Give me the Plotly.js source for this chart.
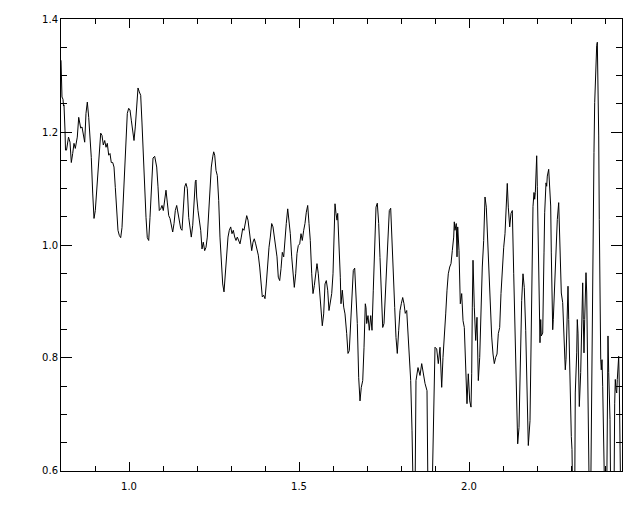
<!DOCTYPE html>
<html>
<head>
<meta charset="utf-8">
<script src="https://cdn.plot.ly/plotly-3.0.1.min.js"></script>
<style>html,body{margin:0;padding:0;background:#fff;}#chart{width:640px;height:512px;}</style>
</head>
<body>
<div id="chart"></div>
<script>
const wavelength = [
0.8000,0.8029,0.8059,0.8074,0.8088,0.8118,0.8132,0.8162,0.8191,0.8221,0.8265,0.8303,0.8344,0.8382,0.8421,0.8450,0.8479,0.8521,0.8550,0.8579,
0.8618,0.8656,0.8697,0.8735,0.8774,0.8815,0.8853,0.8891,0.8932,0.8971,0.9009,0.9050,0.9088,0.9126,0.9168,0.9206,0.9244,0.9285,0.9324,0.9362,
0.9403,0.9441,0.9479,0.9521,0.9559,0.9597,0.9638,0.9676,0.9715,0.9756,0.9794,0.9832,0.9874,0.9912,0.9950,0.9991,1.0029,1.0068,1.0109,1.0147,
1.0185,1.0226,1.0265,1.0303,1.0344,1.0382,1.0421,1.0462,1.0500,1.0538,1.0579,1.0618,1.0656,1.0706,1.0756,1.0815,1.0853,1.0891,1.0932,1.0971,
1.1009,1.1050,1.1088,1.1126,1.1168,1.1206,1.1244,1.1285,1.1324,1.1362,1.1403,1.1441,1.1479,1.1521,1.1559,1.1597,1.1638,1.1676,1.1715,1.1756,
1.1794,1.1832,1.1874,1.1912,1.1950,1.1971,1.1991,1.2029,1.2068,1.2109,1.2147,1.2185,1.2226,1.2265,1.2303,1.2344,1.2382,1.2421,1.2462,1.2491,
1.2521,1.2559,1.2597,1.2638,1.2676,1.2715,1.2756,1.2794,1.2832,1.2874,1.2912,1.2950,1.2991,1.3029,1.3068,1.3109,1.3147,1.3185,1.3226,1.3265,
1.3303,1.3344,1.3382,1.3421,1.3462,1.3500,1.3529,1.3568,1.3609,1.3647,1.3685,1.3726,1.3765,1.3803,1.3844,1.3882,1.3921,1.3962,1.4000,1.4038,
1.4079,1.4118,1.4156,1.4197,1.4235,1.4274,1.4315,1.4353,1.4391,1.4432,1.4471,1.4509,1.4550,1.4588,1.4626,1.4668,1.4706,1.4744,1.4785,1.4824,
1.4862,1.4903,1.4941,1.4979,1.5021,1.5059,1.5097,1.5138,1.5176,1.5215,1.5256,1.5294,1.5332,1.5374,1.5412,1.5450,1.5491,1.5529,1.5568,1.5609,
1.5647,1.5685,1.5726,1.5765,1.5803,1.5844,1.5882,1.5921,1.5962,1.6000,1.6038,1.6059,1.6088,1.6118,1.6138,1.6176,1.6215,1.6235,1.6274,1.6315,
1.6353,1.6403,1.6441,1.6479,1.6521,1.6559,1.6597,1.6638,1.6676,1.6715,1.6756,1.6794,1.6832,1.6874,1.6912,1.6950,1.6971,1.6991,1.7029,1.7068,
1.7109,1.7147,1.7185,1.7226,1.7265,1.7303,1.7344,1.7382,1.7421,1.7462,1.7500,1.7538,1.7579,1.7618,1.7656,1.7697,1.7735,1.7774,1.7815,1.7853,
1.7891,1.7932,1.7971,1.8009,1.8050,1.8088,1.8126,1.8168,1.8206,1.8244,1.8285,1.8324,1.8362,1.8412,1.8441,1.8500,1.8559,1.8609,1.8647,1.8706,
1.8765,1.8794,1.8912,1.8971,1.9000,1.9050,1.9097,1.9147,1.9197,1.9235,1.9274,1.9315,1.9353,1.9391,1.9432,1.9471,1.9509,1.9550,1.9568,1.9588,
1.9626,1.9647,1.9668,1.9706,1.9744,1.9785,1.9824,1.9862,1.9903,1.9941,1.9979,2.0021,2.0059,2.0079,2.0097,2.0118,2.0156,2.0197,2.0235,2.0274,
2.0315,2.0353,2.0391,2.0432,2.0471,2.0509,2.0550,2.0588,2.0626,2.0668,2.0706,2.0744,2.0785,2.0824,2.0862,2.0903,2.0941,2.0979,2.1021,2.1059,
2.1097,2.1126,2.1156,2.1197,2.1235,2.1274,2.1315,2.1353,2.1391,2.1432,2.1471,2.1509,2.1550,2.1588,2.1626,2.1668,2.1706,2.1744,2.1794,2.1838,
2.1882,2.1912,2.1932,2.1951,2.1971,2.1991,2.2009,2.2029,2.2050,2.2068,2.2088,2.2109,2.2126,2.2168,2.2185,2.2206,2.2226,2.2244,2.2265,2.2285,
2.2303,2.2344,2.2362,2.2382,2.2403,2.2421,2.2441,2.2462,2.2479,2.2521,2.2559,2.2597,2.2638,2.2656,2.2676,2.2715,2.2756,2.2794,2.2832,2.2853,
2.2874,2.2912,2.2932,2.2950,2.2971,2.3009,2.3029,2.3050,2.3109,2.3126,2.3168,2.3185,2.3206,2.3226,2.3244,2.3285,2.3324,2.3344,2.3362,2.3382,
2.3403,2.3441,2.3462,2.3479,2.3500,2.3521,2.3538,2.3579,2.3597,2.3618,2.3638,2.3656,2.3676,2.3697,2.3715,2.3735,2.3756,2.3774,2.3794,2.3815,
2.3832,2.3853,2.3874,2.3891,2.3912,2.3932,2.3950,2.3971,2.3991,2.4050,2.4068,2.4088,2.4109,2.4126,2.4147,2.4168,2.4265,2.4285,2.4303,2.4324,
2.4344,2.4362,2.4382,2.4403,2.4421,2.4441,2.4462
];
const ratio = [
1.327,1.262,1.258,1.246,1.248,1.203,1.168,1.168,1.185,1.191,1.182,1.146,1.162,1.180,1.171,1.185,1.191,1.226,1.216,1.207,
1.209,1.198,1.182,1.233,1.253,1.226,1.191,1.155,1.092,1.047,1.061,1.097,1.132,1.162,1.198,1.194,1.177,1.185,1.173,1.180,
1.159,1.162,1.146,1.146,1.138,1.102,1.061,1.026,1.017,1.013,1.031,1.079,1.127,1.185,1.233,1.242,1.239,1.221,1.203,1.185,
1.209,1.251,1.278,1.271,1.265,1.216,1.155,1.097,1.049,1.013,1.008,1.049,1.100,1.154,1.157,1.138,1.103,1.061,1.064,1.070,
1.061,1.085,1.097,1.076,1.052,1.047,1.032,1.023,1.038,1.061,1.070,1.056,1.049,1.029,1.026,1.067,1.103,1.109,1.100,1.049,
1.026,1.014,1.035,1.079,1.112,1.115,1.085,1.061,1.044,1.026,0.993,1.005,0.990,0.996,1.014,1.056,1.109,1.138,1.156,1.165,
1.159,1.132,1.123,1.079,1.014,0.961,0.931,0.917,0.949,0.996,1.014,1.026,1.032,1.020,1.026,1.014,1.008,1.014,1.008,1.002,
1.014,1.029,1.026,1.041,1.052,1.044,1.032,1.011,0.990,1.005,1.011,1.002,0.990,0.982,0.961,0.925,0.908,0.911,0.905,0.931,
0.967,0.996,1.014,1.038,1.032,1.014,0.993,0.979,0.943,0.937,0.958,0.987,0.979,1.002,1.038,1.064,1.044,1.020,0.979,0.946,
0.925,0.949,0.985,0.999,1.002,1.020,1.008,1.026,1.038,1.058,1.070,1.038,1.008,0.949,0.914,0.928,0.955,0.967,0.949,0.914,
0.884,0.857,0.878,0.931,0.937,0.920,0.884,0.902,0.914,0.949,1.026,1.073,1.056,1.044,1.056,1.008,0.943,0.896,0.920,0.890,
0.878,0.843,0.808,0.813,0.861,0.920,0.955,0.959,0.920,0.861,0.765,0.724,0.748,0.760,0.818,0.896,0.889,0.861,0.875,0.849,
0.875,0.849,0.920,1.003,1.067,1.074,1.038,0.978,0.907,0.854,0.861,0.914,0.978,1.038,1.061,1.065,0.996,0.943,0.889,0.836,
0.808,0.849,0.884,0.896,0.907,0.896,0.879,0.884,0.836,0.813,0.760,0.671,0.550,0.550,0.760,0.783,0.769,0.790,0.774,0.755,
0.742,0.550,0.550,0.760,0.819,0.816,0.790,0.819,0.748,0.801,0.831,0.878,0.920,0.949,0.961,0.967,0.990,1.014,1.041,1.026,
1.038,0.979,1.032,0.990,0.896,0.914,0.866,0.854,0.784,0.719,0.772,0.724,0.713,0.772,0.890,0.973,0.890,0.831,0.872,0.760,
0.801,0.890,0.961,1.008,1.085,1.067,1.008,0.937,0.872,0.837,0.807,0.790,0.801,0.807,0.843,0.854,0.914,0.961,0.996,1.020,
1.061,1.109,1.067,1.032,1.056,1.061,0.949,0.837,0.742,0.648,0.677,0.819,0.902,0.949,0.925,0.849,0.713,0.645,0.689,0.849,
1.068,1.093,1.081,1.093,1.152,1.158,1.104,1.016,0.927,0.880,0.827,0.868,0.839,0.844,0.886,0.986,1.057,1.093,1.110,1.104,
1.122,1.134,1.116,1.110,1.069,0.986,0.898,0.850,0.868,0.939,1.016,1.045,1.075,1.045,0.986,0.915,0.898,0.839,0.779,0.797,
0.868,0.927,0.868,0.809,0.732,0.661,0.638,0.550,0.550,0.738,0.809,0.868,0.844,0.750,0.714,0.774,0.880,0.933,0.868,0.809,
0.868,0.951,0.915,0.839,0.750,0.661,0.550,0.550,0.691,0.809,0.927,1.045,1.164,1.252,1.282,1.335,1.353,1.359,1.282,1.193,
1.045,0.809,0.797,0.779,0.797,0.750,0.691,0.632,0.550,0.550,0.691,0.839,0.774,0.750,0.691,0.550,0.550,0.720,0.762,0.744,
0.738,0.762,0.797,0.803,0.750,0.661,0.550
];
const xRange = [0.8, 2.45];
const yRange = [0.5999, 1.4001];

const axisFont = {family: 'DejaVu Sans, sans-serif', size: 10, color: '#000'};
const trace = {
  x: wavelength, y: ratio, type: 'scatter', mode: 'lines',
  line: {color: '#000', width: 1}, hoverinfo: 'skip'
};
const layout = {
  width: 640, height: 512,
  margin: {l: 61, r: 18, t: 19, b: 41},
  paper_bgcolor: '#fff', plot_bgcolor: '#fff',
  showlegend: false,
  xaxis: {
    range: xRange, showgrid: false, zeroline: false,
    showline: true, linecolor: '#000', linewidth: 1, mirror: 'allticks',
    ticks: 'inside', ticklen: 9, tickcolor: '#000', tickwidth: 1,
    tick0: 0, dtick: 0.5, tickformat: '.1f', tickfont: axisFont, ticklabelstandoff: 6,
    minor: {ticks: 'inside', ticklen: 5, dtick: 0.1, tick0: 0, tickcolor: '#000', tickwidth: 1, showgrid: false}
  },
  yaxis: {
    range: yRange, showgrid: false, zeroline: false,
    showline: true, linecolor: '#000', linewidth: 1, mirror: 'allticks',
    ticks: 'inside', ticklen: 11, tickcolor: '#000', tickwidth: 1,
    tick0: 0, dtick: 0.2, tickformat: '.1f', tickfont: axisFont,
    minor: {ticks: 'inside', ticklen: 6, dtick: 0.05, tick0: 0, tickcolor: '#000', tickwidth: 1, showgrid: false}
  }
};
Plotly.newPlot('chart', [trace], layout, {staticPlot: true, displayModeBar: false});
</script>
</body>
</html>
